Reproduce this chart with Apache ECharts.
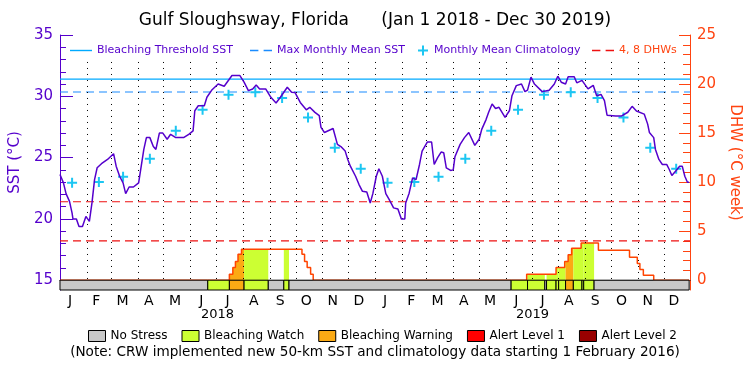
<!DOCTYPE html>
<html>
<head>
<meta charset="utf-8">
<script src="https://cdn.jsdelivr.net/npm/echarts@6/dist/echarts.min.js"></script>
<style>
  html, body { margin: 0; padding: 0; background: #fff; }
  #chart { width: 750px; height: 375px; }
</style>
</head>
<body>
<div id="chart"></div>
<script>
const DAY = 86400000;
const START = Date.UTC(2018, 0, 1);
const END = Date.UTC(2019, 11, 31);

const monthLabels = ['J', 'F', 'M', 'A', 'M', 'J', 'J', 'A', 'S', 'O', 'N', 'D'];
const yearLabels = ['2018', '2019'];
const sstMajorTicks = [15, 20, 25, 30, 35];
const sstMinorTicks = [15, 16, 17, 18, 19, 20, 21, 22, 23, 24, 25, 26, 27, 28, 29, 30, 31, 32, 33, 34, 35];
const dhwMajorTicks = [0, 5, 10, 15, 20, 25];
const dhwMinorTicks = [0, 1, 2, 3, 4, 5, 6, 7, 8, 9, 10, 11, 12, 13, 14, 15, 16, 17, 18, 19, 20, 21, 22, 23, 24, 25];

// SST: days since Jan 1 2018, degC
const sstDays = [0, 4, 7, 11, 14, 15, 19, 22, 26, 30, 34, 37, 40, 43, 48, 55, 62, 65, 69, 73, 76, 80, 85, 91, 94, 97,
  100, 104, 108, 111, 115, 119, 124, 128, 134, 143, 149, 154, 156, 160, 167, 170, 176, 183, 185, 190, 199, 208,
  213, 218, 223, 227, 231, 238, 244, 250, 255, 263, 268, 272, 278, 285, 289, 295, 300, 302, 306, 316, 321, 325,
  330, 333, 336, 342, 346, 350, 355, 359, 362, 366, 369, 373, 377, 381, 386, 391, 395, 399, 400, 404, 408, 412,
  416, 419, 425, 430, 433, 437, 441, 444, 447, 452, 455, 457, 463, 468, 473, 480, 485, 488, 493, 496, 500, 504,
  508, 515, 520, 523, 528, 534, 538, 541, 545, 549, 558, 566, 572, 576, 580, 585, 588, 595, 598, 604, 611, 617,
  621, 626, 630, 633, 643, 650, 657, 662, 667, 676, 680, 682, 687, 689, 693, 697, 702, 705, 708, 713, 717, 720,
  723, 726, 728];
const sstValues = [23.62, 22.94, 22.06, 21.43, 20.47, 20.0, 20.0, 19.38, 19.38, 20.2, 19.8, 21.3, 23.2, 24.17, 24.5,
  24.85, 25.32, 24.3, 23.48, 22.94, 22.06, 22.6, 22.6, 22.94, 24.3, 25.67,
  26.63, 26.63, 25.9, 25.67, 27.0, 27.0, 26.5, 26.9, 26.63, 26.63, 26.9, 27.18, 28.82, 29.23, 29.23, 29.92, 30.54,
  31.0, 31.1, 30.82, 31.7, 31.7,
  31.15, 30.46, 30.6, 30.93, 30.6, 30.6, 29.92, 29.45, 29.92, 30.74, 30.33, 30.3, 29.5, 28.9, 29.1, 28.69, 28.42,
  27.46, 27.05, 27.37, 26.08, 25.9,
  25.53, 24.85, 24.3, 23.48, 22.8, 22.25, 22.2, 21.3, 22.06, 23.48, 24.09, 23.48, 22.06, 21.57, 20.9, 20.8, 20.0,
  20.0, 21.3, 22.1, 23.35, 23.2,
  24.44, 25.53, 26.27, 26.27, 24.44, 25.0, 25.45, 25.4, 24.17, 23.95, 24.0, 25.07, 26.08, 26.63, 27.05, 26.0, 26.5,
  27.3, 28.1, 28.7, 29.37, 29.0,
  29.1, 28.28, 28.82, 30.05, 30.87, 31.0, 30.38, 30.5, 31.56, 31.0, 30.38, 30.5, 31.0, 31.64, 31.15, 31.0, 31.6,
  31.6, 31.1, 31.3, 30.6, 30.9,
  30.05, 30.15, 29.64, 28.46, 28.4, 28.4, 28.7, 29.18, 28.8, 28.55, 27.73, 27.05, 26.63, 25.67, 24.85, 24.44, 24.44,
  24.03, 23.54, 23.95, 24.3, 24.3,
  23.48, 22.99, 22.99];

// monthly mean climatology, Jan..Dec (plotted mid-month in both years)
const climMonthly = [22.94, 23.0, 23.43, 24.9, 27.18, 28.9, 30.13, 30.33, 29.86, 28.27, 25.81, 24.09];

const maxMonthlyMean = 30.35;
const bleachingThreshold = 31.4;
const dhwLevels = [4, 8];

// degree heating weeks, each value holds until the next date
const dhwDates = ['2018-01-01', '2018-07-16', '2018-07-20', '2018-07-23', '2018-07-26', '2018-07-30', '2018-10-08',
  '2018-10-11', '2018-10-14', '2018-10-18', '2018-10-21', '2019-06-25', '2019-07-29', '2019-08-08', '2019-08-12',
  '2019-08-16', '2019-08-27', '2019-09-16', '2019-10-22', '2019-10-31', '2019-11-03', '2019-11-07', '2019-11-19',
  '2019-12-30'];
const dhwValues = [0, 0.6, 1.3, 1.9, 2.65, 3.15, 2.65, 1.9, 1.3, 0.6, 0, 0.6, 1.3, 1.9, 2.6, 3.25, 3.8, 3.05, 2.35,
  1.7, 1.1, 0.5, 0, 0];

// stress level periods: 0 none, 1 watch, 2 warning, 3 alert 1, 4 alert 2
const stressDates = ['2018-01-01', '2018-06-21', '2018-07-16', '2018-08-02', '2018-08-30', '2018-09-17',
  '2018-09-23', '2019-06-07', '2019-06-26', '2019-07-16', '2019-07-18', '2019-07-29', '2019-08-01', '2019-08-09',
  '2019-08-18', '2019-08-28', '2019-08-30', '2019-09-11'];
const stressLevels = [0, 1, 2, 1, 0, 1, 0, 1, 1, 0, 1, 1, 1, 2, 1, 1, 1, 0];
const stressEnd = '2019-12-30';

const stressNames = ['No Stress', 'Bleaching Watch', 'Bleaching Warning', 'Alert Level 1', 'Alert Level 2'];
const stressColors = ['#c8c8c8', '#ccff33', '#fbaa14', '#ff0000', '#990000'];

const PURPLE = '#5500cc';
const ORANGE = '#ff4411';
const FONT = 'DejaVu Sans';
const PLUS = 'path://M4,0H6V4H10V6H6V10H4V6H0V4H4Z';
const SOLID = 'path://M0,4H22V5.4H0Z';
const DASHED = 'path://M0,4H8V5.4H0Z M13,4H21V5.4H13Z';

const toTs = s => Date.parse(s);
const dhwT = dhwDates.map(toTs);

const sstData = sstDays.map((d, i) => [START + d * DAY, sstValues[i]]);
const climData = [];
[2018, 2019].forEach(y => climMonthly.forEach((v, m) => climData.push([Date.UTC(y, m, 15), v])));
const dhwData = dhwT.map((t, i) => [t, dhwValues[i]]);
const stressData = stressDates.map((s, i) => [
  toTs(s), toTs(i + 1 < stressDates.length ? stressDates[i + 1] : stressEnd), stressLevels[i]
]);

// dotted month separators
const monthLines = [];
[2018, 2019].forEach(y => {
  for (let m = 0; m < 12; m++) {
    const t = Date.UTC(y, m, 1);
    if (t > START) monthLines.push([{ coord: [t, 32.8] }, { coord: [t, 15] }]);
  }
});

function dhwAt(t) {
  let v = 0;
  for (let i = 0; i < dhwT.length && dhwT[i] <= t; i++) v = dhwValues[i];
  return v;
}

function renderFill(params, api) {
  const s = api.value(0), e = api.value(1), lvl = api.value(2);
  if (!lvl) return null;
  let v = dhwAt(s);
  const pts = [api.coord([s, 0]), api.coord([s, v])];
  dhwT.forEach((t, i) => {
    if (t > s && t < e) {
      pts.push(api.coord([t, v]));
      v = dhwValues[i];
      pts.push(api.coord([t, v]));
    }
  });
  pts.push(api.coord([e, v]), api.coord([e, 0]));
  return { type: 'polygon', shape: { points: pts }, style: { fill: stressColors[lvl] } };
}

function renderBar(params, api) {
  const s = api.value(0), e = api.value(1), lvl = api.value(2);
  const p0 = api.coord([s, 0]), p1 = api.coord([e, -1]);
  return {
    type: 'rect',
    shape: { x: p0[0], y: p0[1], width: p1[0] - p0[0], height: p1[1] - p0[1] },
    style: { fill: stressColors[lvl], stroke: '#000', lineWidth: 1 }
  };
}

const chart = echarts.init(document.getElementById('chart'));

const topLegend = (name, icon, left, width, color) => ({
  data: [{ name: name, icon: icon }], left: left, top: 45, padding: 0, itemWidth: width, itemHeight: 10,
  selectedMode: false, textStyle: { color: color, fontSize: 11, fontFamily: FONT }
});

chart.setOption({
  animation: false,
  textStyle: { fontFamily: FONT },
  title: [
    {
      text: 'Gulf Sloughsway, Florida      (Jan 1 2018 - Dec 30 2019)',
      left: 'center', top: 12, padding: 0,
      textStyle: { fontSize: 17, fontWeight: 'normal', color: '#000', fontFamily: FONT }
    },
    {
      text: '(Note: CRW implemented new 50-km SST and climatology data starting 1 February 2016)',
      left: 'center', top: 345, padding: 0,
      textStyle: { fontSize: 13.6, fontWeight: 'normal', color: '#000', fontFamily: FONT }
    }
  ],
  legend: [
    topLegend('Bleaching Threshold SST', SOLID, 70, 22, PURPLE),
    topLegend('Max Monthly Mean SST', DASHED, 250, 22, PURPLE),
    topLegend('Monthly Mean Climatology', PLUS, 418, 12, PURPLE),
    topLegend('4, 8 DHWs', DASHED, 592, 22, ORANGE),
    {
      data: stressNames, left: 88, top: 330, padding: 0, icon: 'rect',
      itemWidth: 17, itemHeight: 11, itemGap: 14, selectedMode: false,
      itemStyle: { borderColor: '#000', borderWidth: 1 },
      textStyle: { color: '#000', fontSize: 12, fontFamily: FONT }
    }
  ],
  grid: { left: 57, right: 56, top: 35, bottom: 85 },
  xAxis: [
    {
      type: 'time', min: START, max: END, position: 'top',
      axisLine: { lineStyle: { color: '#000', width: 1 } },
      axisTick: { show: false }, axisLabel: { show: false }, splitLine: { show: false }
    },
    {
      type: 'category', data: monthLabels.concat(monthLabels), position: 'bottom', boundaryGap: true,
      axisLine: { show: false }, axisTick: { show: false }, splitLine: { show: false },
      axisLabel: { color: '#000', fontSize: 14, margin: 4, interval: 0, padding: [0, 6, 0, 0] }
    },
    {
      type: 'category', data: yearLabels, position: 'bottom', boundaryGap: true,
      axisLine: { show: false }, axisTick: { show: false }, splitLine: { show: false },
      axisLabel: { color: '#000', fontSize: 13, margin: 18, interval: 0 }
    }
  ],
  yAxis: [
    {
      type: 'value', min: 14.2, max: 35, position: 'left',
      name: 'SST (\u00b0C)', nameLocation: 'middle', nameGap: 30, nameRotate: 90,
      nameTextStyle: { color: PURPLE, fontSize: 15 },
      axisLine: { show: true, lineStyle: { color: PURPLE, width: 1 } },
      axisTick: { show: true, inside: true, length: 13, customValues: sstMajorTicks, lineStyle: { color: PURPLE } },
      axisLabel: { customValues: sstMajorTicks, color: PURPLE, fontSize: 15, margin: 7 },
      splitLine: { show: false }
    },
    {
      type: 'value', min: 14.2, max: 35, position: 'left',
      axisLine: { show: false },
      axisTick: { show: true, inside: true, length: 6, customValues: sstMinorTicks, lineStyle: { color: PURPLE } },
      axisLabel: { show: false }, splitLine: { show: false }
    },
    {
      type: 'value', min: -1, max: 25, position: 'right',
      name: 'DHW (\u00b0C week)', nameLocation: 'middle', nameGap: 27, nameRotate: -90,
      nameTextStyle: { color: ORANGE, fontSize: 15 },
      axisLine: { show: true, lineStyle: { color: ORANGE, width: 1 } },
      axisTick: { show: true, inside: true, length: 11, customValues: dhwMajorTicks, lineStyle: { color: ORANGE } },
      axisLabel: { customValues: dhwMajorTicks, color: ORANGE, fontSize: 15, margin: 7 },
      splitLine: { show: false }
    },
    {
      type: 'value', min: -1, max: 25, position: 'right',
      axisLine: { show: false },
      axisTick: { show: true, inside: true, length: 7, customValues: dhwMinorTicks, lineStyle: { color: ORANGE } },
      axisLabel: { show: false }, splitLine: { show: false }
    }
  ],
  series: [
    {
      type: 'custom', name: 'stress fill', xAxisIndex: 0, yAxisIndex: 2, z: 1, silent: true,
      renderItem: renderFill, encode: { x: [0, 1], y: 2 }, data: stressData
    },
    {
      type: 'line', name: 'Bleaching Threshold SST', xAxisIndex: 0, yAxisIndex: 0, z: 2, silent: true,
      data: [[START, bleachingThreshold], [END, bleachingThreshold]], symbol: 'none',
      itemStyle: { color: '#00aaff' }, lineStyle: { color: '#00aaff', width: 1.2 }
    },
    {
      type: 'line', name: 'Max Monthly Mean SST', xAxisIndex: 0, yAxisIndex: 0, z: 2, silent: true,
      data: [[START, maxMonthlyMean], [END, maxMonthlyMean]], symbol: 'none',
      itemStyle: { color: '#1a8cff' }, lineStyle: { color: '#1a8cff', width: 1.2, type: [8, 5] }
    },
    ...dhwLevels.map(v => ({
      type: 'line', name: '4, 8 DHWs', xAxisIndex: 0, yAxisIndex: 2, z: 2, silent: true,
      data: [[START, v], [END, v]], symbol: 'none',
      itemStyle: { color: '#ee1111' }, lineStyle: { color: '#ee1111', width: 1.2, type: [8, 5] }
    })),
    {
      type: 'line', name: 'DHW', xAxisIndex: 0, yAxisIndex: 2, z: 3, silent: true,
      data: dhwData, step: 'end', symbol: 'none',
      lineStyle: { color: '#ff4400', width: 1.5 }
    },
    {
      type: 'scatter', name: 'Monthly Mean Climatology', xAxisIndex: 0, yAxisIndex: 0, z: 4, silent: true,
      data: climData, symbol: PLUS, symbolSize: 10, itemStyle: { color: '#1cc6f2', opacity: 1 }
    },
    {
      type: 'line', name: 'SST', xAxisIndex: 0, yAxisIndex: 0, z: 5, silent: true,
      data: sstData, symbol: 'none',
      lineStyle: { color: PURPLE, width: 1.5 },
      markLine: {
        silent: true, symbol: 'none', label: { show: false },
        lineStyle: { color: '#000', width: 1, type: [1, 5] },
        data: monthLines
      }
    },
    {
      type: 'custom', name: 'stress bar', xAxisIndex: 0, yAxisIndex: 2, z: 6, silent: true,
      renderItem: renderBar, encode: { x: [0, 1], y: 2 }, data: stressData
    },
    // legend-only entries for the stress colour key
    ...stressNames.map((n, i) => ({
      type: 'bar', name: n, xAxisIndex: 2, yAxisIndex: 2, data: [],
      itemStyle: { color: stressColors[i], borderColor: '#000', borderWidth: 1 }
    }))
  ]
});
</script>
</body>
</html>
